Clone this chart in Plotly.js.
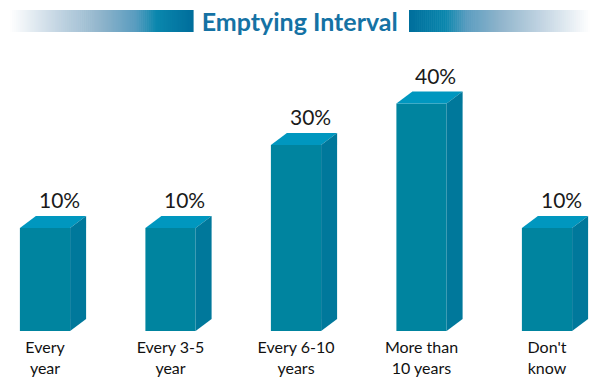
<!DOCTYPE html>
<html>
<head>
<meta charset="utf-8">
<script src="https://cdn.plot.ly/plotly-3.0.1.min.js"></script>
<style>html,body{margin:0;padding:0;background:#fff;}#chart{width:590px;height:377px;}</style>
</head>
<body>
<div id="chart"></div>
<script>
// ---- data ----
const categories = ["Every<br>year", "Every 3-5<br>year", "Every 6-10<br>years", "More than<br>10 years", "Don't<br>know"];
const shares = [10, 10, 30, 40, 10];
const valueLabels = ["10%", "10%", "30%", "40%", "10%"];
const chartTitle = "Emptying Interval";

// ---- layout parameters ----
const W = 590, H = 377, M = {l: 0, r: 0, t: 0, b: 46};
const axisFloor = -14.8;          // value at plot bottom (bars start here)
const yTop = 64.96;
const xRange = [-0.3586, 4.3426];
const barW = 0.4;
const plotW = W - M.l - M.r, plotH = H - M.t - M.b;
const pxPerX = plotW / (xRange[1] - xRange[0]);
const pxPerY = plotH / (yTop - axisFloor);
const depthX = 16 / pxPerX, depthY = 12 / pxPerY;

const frontCol = "#00849f", topCol = "#0097bf", sideCol = "#00789b";

const idx = categories.map((c, i) => i);

const shapes = [];
shares.forEach((v, i) => {
  const xl = i - barW / 2, xr = i + barW / 2;
  shapes.push({type: "path", xref: "x", yref: "y", fillcolor: topCol, line: {width: 0},
    path: `M${xl},${v} L${xl + depthX},${v + depthY} L${xr + depthX},${v + depthY} L${xr},${v} Z`});
  shapes.push({type: "path", xref: "x", yref: "y", fillcolor: sideCol, line: {width: 0},
    path: `M${xr},${axisFloor} L${xr},${v} L${xr + depthX},${v + depthY} L${xr + depthX},${axisFloor + depthY} Z`});
});

// decorative gradient bands beside the title (pixel -> paper)
function px2paperX(px) { return (px - M.l) / plotW; }
function px2paperY(py) { return (H - M.b - py) / plotH; }
function hex(c) { return [1, 3, 5].map(k => parseInt(c.substr(k, 2), 16)); }
const stops = [[0, "#ffffff"], [0.25, "#c6d7e4"], [0.5, "#8fb4cb"], [0.68, "#5b9dc0"], [0.8, "#0a87ad"], [1, "#006e9c"]];
function colAt(t) {
  for (let k = 1; k < stops.length; k++) {
    if (t <= stops[k][0]) {
      const a = hex(stops[k - 1][1]), b = hex(stops[k][1]);
      const f = (t - stops[k - 1][0]) / (stops[k][0] - stops[k - 1][0]);
      return "rgb(" + a.map((x, j) => Math.round(x + (b[j] - x) * f)).join(",") + ")";
    }
  }
  return stops[stops.length - 1][1];
}
function band(x0, x1, outerLeft) {
  const n = 90, step = (x1 - x0) / n;
  for (let k = 0; k < n; k++) {
    const t = outerLeft ? (k + 0.5) / n : 1 - (k + 0.5) / n;
    shapes.push({type: "rect", xref: "paper", yref: "paper", layer: "above",
      x0: px2paperX(x0 + k * step), x1: px2paperX(x0 + (k + 1) * step + 0.6),
      y0: px2paperY(32), y1: px2paperY(10), fillcolor: colAt(t), line: {width: 0}});
  }
}
band(10, 193, true);
band(409, 590, false);

const annotations = shares.map((v, i) => ({
  x: i, y: v, xref: "x", yref: "y", text: valueLabels[i], showarrow: false,
  xanchor: "center", yanchor: "bottom", xshift: 14, yshift: 14,
  font: {family: "Lato, sans-serif", size: 21, color: "#1a1a1a"}
}));

const trace = {
  type: "bar", x: idx, y: shares.map(v => v - axisFloor), base: axisFloor,
  width: barW, marker: {color: frontCol, line: {width: 0}}, hoverinfo: "skip"
};

const layout = {
  width: W, height: H, margin: M, paper_bgcolor: "#fff", plot_bgcolor: "#fff",
  showlegend: false,
  title: {text: "<b>" + chartTitle + "</b>", x: 0.508, xanchor: "center", y: 1 - 22 / H, yanchor: "middle",
    font: {family: "Lato, sans-serif", size: 25, color: "#1572a4"}},
  xaxis: {range: xRange, tickvals: idx, ticktext: categories, showgrid: false, zeroline: false,
    showline: false, ticks: "", ticklabelstandoff: 5,
    tickfont: {family: "Lato, sans-serif", size: 16, color: "#111"}},
  yaxis: {range: [axisFloor, yTop], visible: false, showgrid: false, zeroline: false},
  shapes: shapes, annotations: annotations
};

Plotly.newPlot("chart", [trace], layout, {staticPlot: true});
</script>
</body>
</html>
